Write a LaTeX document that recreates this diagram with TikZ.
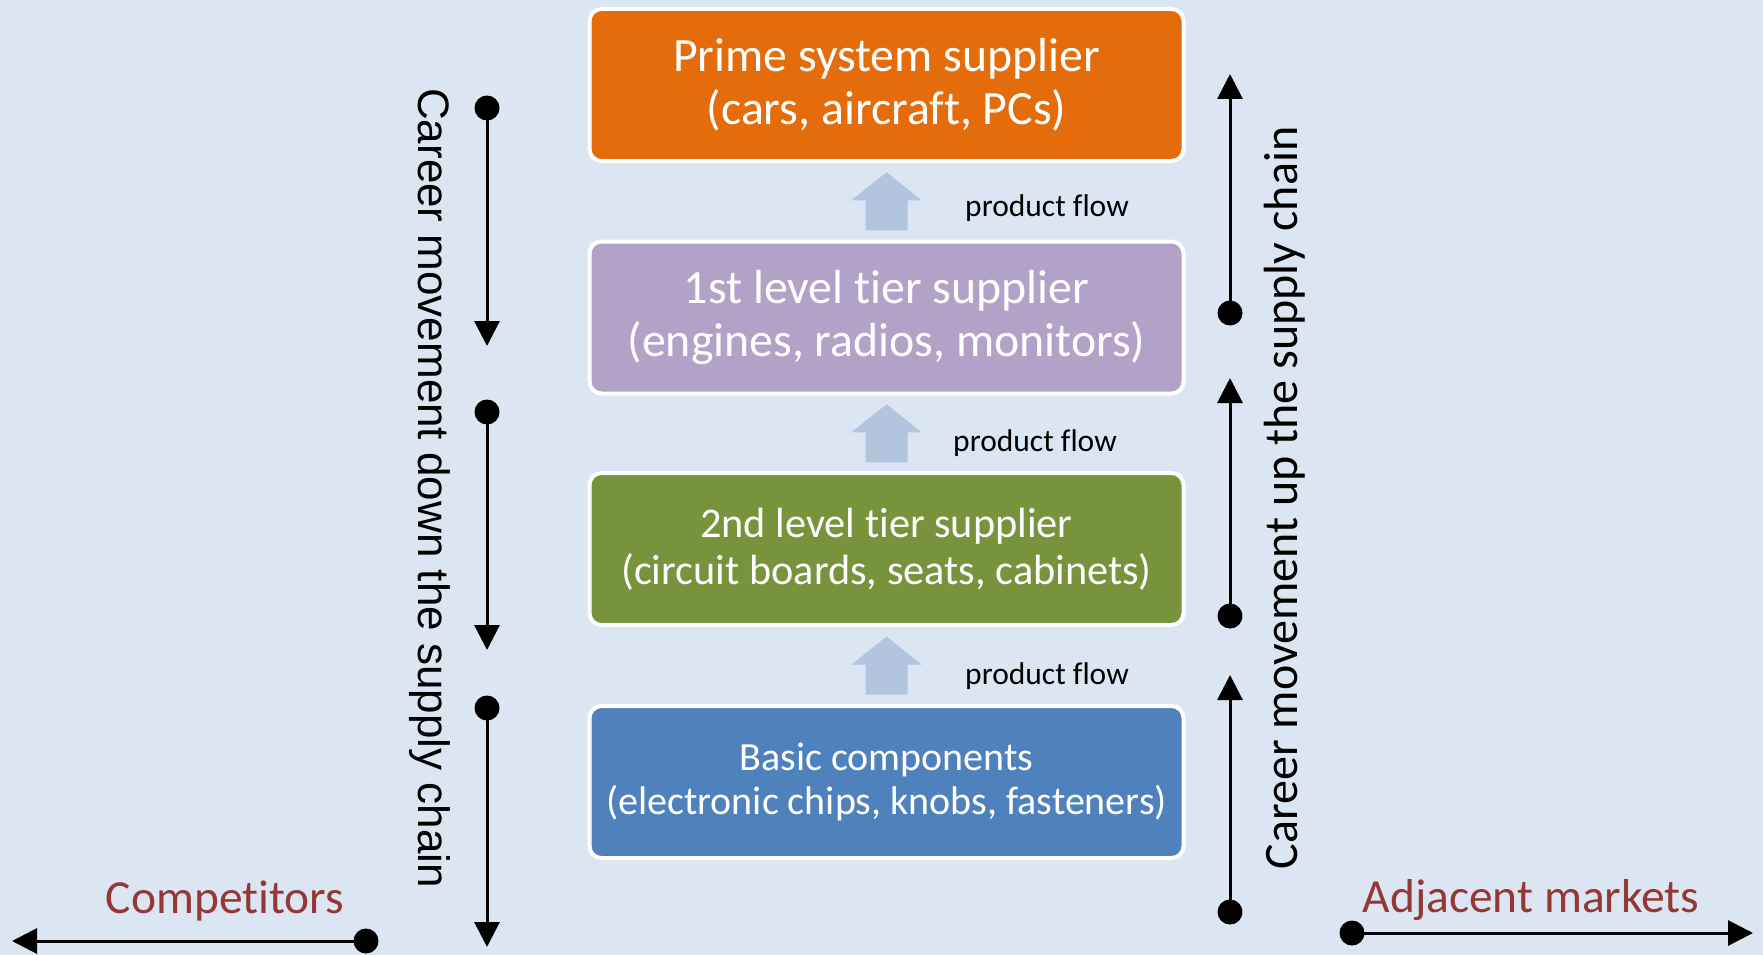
\documentclass[tikz,border=0pt]{standalone}
\usepackage{fontspec}
\setmainfont{Carlito}[RawFeature=-liga]
\newfontfamily\arialfont{Liberation Sans}
\usetikzlibrary{arrows.meta,calc}
\definecolor{bg}{HTML}{DCE6F2}
\definecolor{primec}{HTML}{E46C0A}
\definecolor{tieronec}{HTML}{B3A2C7}
\definecolor{tiertwoc}{HTML}{77933C}
\definecolor{basicc}{HTML}{4F81BD}
\definecolor{flowc}{HTML}{B3C4DE}
\definecolor{marketc}{HTML}{953735}
\begin{document}
\begin{tikzpicture}[x=1pt,y=-1pt,
  box/.style={draw=white, line width=4pt, rounded corners=12pt,
    minimum width=594pt, minimum height=152pt, text=white, align=center, inner sep=0pt},
  bigtext/.style={font=\fontsize{47.8}{53}\selectfont},
  midtext/.style={font=\fontsize{42.3}{47}\selectfont},
  smalltext/.style={font=\fontsize{40}{44}\selectfont},
  flowlabel/.style={font=\fontsize{31.5}{36}\selectfont, anchor=base},
  flowarrow/.style={fill=flowc},
  dotnode/.style={circle, fill=black, minimum size=25pt, inner sep=0pt},
  movearrow/.style={line width=3pt, -{Triangle[width=25pt,length=25pt]}},
  market/.style={text=marketc, font=\fontsize{47.5}{53}\selectfont, anchor=base}
]
\fill[bg] (0,0) rectangle (1763,955);
\useasboundingbox (0,0) rectangle (1763,955);

% boxes
\node[box, fill=primec, bigtext] (b1) at (886.5,85) {Prime system supplier\\(cars, aircraft, PCs)};
\node[box, fill=tieronec, bigtext] (b2) at (886.5,317.5) {1st level tier supplier\\(engines, radios, monitors)};
\node[box, fill=tiertwoc, midtext] (b3) at (886.5,549) {2nd level tier supplier\\(circuit boards, seats, cabinets)};
\node[box, fill=basicc, smalltext] (b4) at (886.5,782) {Basic components\\(electronic chips, knobs, fasteners)};

% product flow arrows
\coordinate (m1) at ($(b1.south)!.5!(b2.north)$);
\coordinate (m2) at ($(b2.south)!.5!(b3.north)$);
\coordinate (m3) at ($(b3.south)!.5!(b4.north)$);
\foreach \m in {m1,m2,m3}{
  \fill[flowarrow] (\m) ++(0,-29) -- ++(35,28) -- ++(-14,0) -- ++(0,30) -- ++(-42,0) -- ++(0,-30) -- ++(-14,0) -- cycle;
}
\node[flowlabel] (pf1) at (1047,216) {product flow};
\node[flowlabel] (pf2) at (1035,451) {product flow};
\node[flowlabel] (pf3) at (1047,684) {product flow};

% career movement down
\node[dotnode] (d1) at (487,108) {};
\coordinate (d1e) at (487,346);
\node[dotnode] (d2) at (487,412) {};
\coordinate (d2e) at (487,650);
\node[dotnode] (d3) at (487,708) {};
\coordinate (d3e) at (487,947);
\draw[movearrow] (d1.center) -- (d1e);
\draw[movearrow] (d2.center) -- (d2e);
\draw[movearrow] (d3.center) -- (d3e);
\node[rotate=-90, font=\arialfont\fontsize{44}{50}\selectfont] (downtext) at (430,488) {Career movement down the supply chain};

% career movement up
\node[dotnode] (u1) at (1230,313) {};
\coordinate (u1e) at (1230,74);
\node[dotnode] (u2) at (1230,616) {};
\coordinate (u2e) at (1230,378);
\node[dotnode] (u3) at (1230,912) {};
\coordinate (u3e) at (1230,675);
\draw[movearrow] (u1.center) -- (u1e);
\draw[movearrow] (u2.center) -- (u2e);
\draw[movearrow] (u3.center) -- (u3e);
\node[rotate=90, font=\fontsize{48}{53}\selectfont] (uptext) at (1285,498) {Career movement up the supply chain};

% competitors / adjacent markets
\node[dotnode] (c1) at (366,941) {};
\coordinate (c1e) at (12,941);
\draw[movearrow] (c1.center) -- (c1e);
\node[market] (comp) at (225,913) {Competitors};
\node[dotnode] (a1) at (1352,933) {};
\coordinate (a1e) at (1753,933);
\draw[movearrow] (a1.center) -- (a1e);
\node[market] (adj) at (1531,912) {Adjacent markets};
\end{tikzpicture}
\end{document}
